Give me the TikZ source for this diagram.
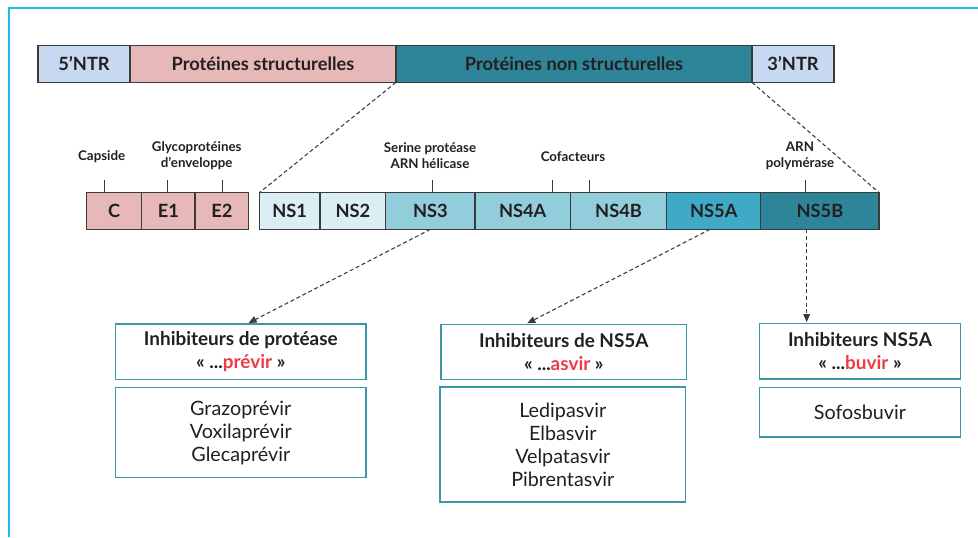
\documentclass[tikz,border=0pt]{standalone}
\usepackage{fontspec}
\setmainfont{Lato}
\usetikzlibrary{positioning,arrows.meta}
\definecolor{ntrblue}{HTML}{C6D9F0}
\definecolor{structpink}{HTML}{E6B9B8}
\definecolor{nsteal}{HTML}{2E8599}
\definecolor{nspale}{HTML}{DAEEF3}
\definecolor{nsmid}{HTML}{92CDDC}
\definecolor{nsfive}{HTML}{40A9C6}
\definecolor{segline}{HTML}{3A3A3A}
\definecolor{boxline}{HTML}{3C95A9}
\definecolor{framecyan}{HTML}{22B8EE}
\definecolor{suffixred}{HTML}{EE3A43}
\definecolor{ink}{HTML}{231F20}
\begin{document}
\begin{tikzpicture}[x=0.75pt,y=-0.75pt,>={Triangle[length=6pt,width=5pt]},
  seg/.style={draw=segline,line width=0.9pt,minimum height=27.5pt,minimum width=#1*0.75pt,
    inner sep=0pt,outer sep=0pt,text=ink,font=\bfseries\fontsize{13.7}{15}\selectfont},
  lbl/.style={align=center,text=ink,font=\bfseries\fontsize{10}{12}\selectfont},
  tick/.style={draw=segline,line width=0.8pt},
  hdr/.style={draw=boxline,line width=1.1pt,minimum width=#1*0.75pt,minimum height=41.5pt,
    inner sep=0pt,align=center,text=ink,font=\bfseries\fontsize{14.2}{17}\selectfont},
  drug/.style={draw=boxline,line width=1.1pt,minimum width=#1*0.75pt,
    inner sep=0pt,align=center,text=ink,font=\fontsize{14.8}{17.25}\selectfont},
  zoomline/.style={segline,line width=0.8pt,dash pattern=on 3pt off 2pt},
  pointer/.style={->,segline,line width=0.8pt,dash pattern=on 3pt off 2pt,shorten >=0.5pt}]
\useasboundingbox (0,0) rectangle (978,537);
\draw[framecyan,line width=1.5pt] (9,537) -- (9,8) -- (978,8);

% genome
\node[seg=92,fill=ntrblue] (ntr5) at (84,64) {5’NTR};
\node[seg=266,fill=structpink,right=0pt of ntr5] (struct) {Protéines structurelles};
\node[seg=356,fill=nsteal,right=0pt of struct] (nonstruct) {Protéines non structurelles};
\node[seg=82,fill=ntrblue,right=0pt of nonstruct] (ntr3) {3’NTR};

% structural proteins
\node[seg=55,fill=structpink] (c) at (114.2,211) {C};
\node[seg=53.3,fill=structpink,right=0pt of c] (e1) {E1};
\node[seg=53.7,fill=structpink,right=0pt of e1] (e2) {E2};

% non structural proteins
\node[seg=60.7,fill=nspale] (ns1) at (289.7,211) {NS1};
\node[seg=65.7,fill=nspale,right=0pt of ns1] (ns2) {NS2};
\node[seg=89.3,fill=nsmid,right=0pt of ns2] (ns3) {NS3};
\node[seg=95.3,fill=nsmid,right=0pt of ns3] (ns4a) {NS4A};
\node[seg=96.4,fill=nsmid,right=0pt of ns4a] (ns4b) {NS4B};
\node[seg=94,fill=nsfive,right=0pt of ns4b] (ns5a) {NS5A};
\node[seg=118.3,fill=nsteal,right=0pt of ns5a] (ns5b) {NS5B};

\node[lbl] (capside) at (101.7,157) {Capside};
\node[lbl] (glyco) at (196.7,156) {Glycoprotéines\\d’enveloppe};
\node[lbl] (serine) at (430,156) {Serine protéase\\ARN hélicase};
\node[lbl] (cofact) at (573,157) {Cofacteurs};
\node[lbl] (polym) at (800,156) {ARN\\polymérase};
\draw[tick] (104.3,0 |- c.north) -- ++(0,-13);
\draw[tick] (167.3,0 |- e1.north) -- ++(0,-13);
\draw[tick] (222.3,0 |- e2.north) -- ++(0,-13);
\draw[tick] (432.3,0 |- ns3.north) -- ++(0,-13);
\draw[tick] (552.3,0 |- ns4a.north) -- ++(0,-13);
\draw[tick] (589.3,0 |- ns4b.north) -- ++(0,-13);
\draw[tick] (805.7,0 |- ns5b.north) -- ++(0,-13);

\draw[zoomline] (nonstruct.south west) -- (ns1.north west);
\draw[zoomline] (ntr3.south west) -- (ns5b.north east);

% drug classes
\node[hdr=250.3] (prot) at (240.8,351.7) {Inhibiteurs de protéase\\« ...\textcolor{suffixred}{prévir} »};
\node[drug=250.3,minimum height=67.5pt] (protdrugs) at (240.8,432.7) {Grazoprévir\\Voxilaprévir\\Glecaprévir};
\node[hdr=245.7] (nsa) at (563.8,352) {Inhibiteurs de NS5A\\« ...\textcolor{suffixred}{asvir} »};
\node[drug=245.7,minimum height=86.25pt] (nsadrugs) at (562.8,444.7) {Ledipasvir\\Elbasvir\\Velpatasvir\\Pibrentasvir};
\node[hdr=201.4] (nsb) at (860,351.2) {Inhibiteurs NS5A\\« ...\textcolor{suffixred}{buvir} »};
\node[drug=201.4,minimum height=37.3pt] (nsbdrugs) at (860,412.2) {Sofosbuvir};

\draw[pointer] (ns3.south) -- (248,0 |- prot.north);
\draw[pointer] (710,0 |- ns5a.south) -- (526.7,0 |- nsa.north);
\draw[pointer] (806.7,0 |- ns5b.south) -- (806.7,0 |- nsb.north);
\end{tikzpicture}
\end{document}
